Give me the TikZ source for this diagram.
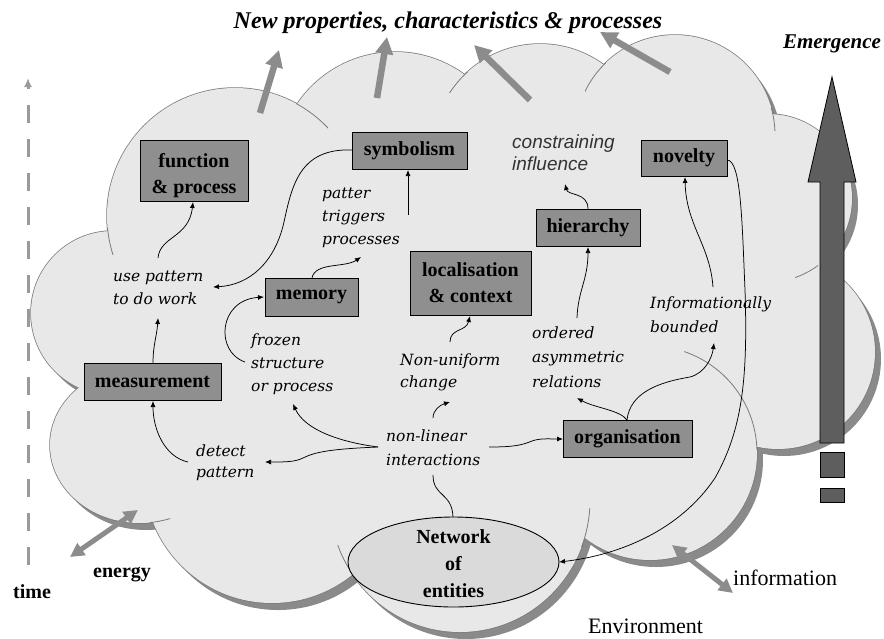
\documentclass[tikz,border=0pt]{standalone}
\usepackage{fontspec}
\setmainfont{Liberation Serif}
\newfontfamily\lblfont{DejaVu Serif}
\newfontfamily\sansfnt{Liberation Sans}
\usetikzlibrary{arrows.meta,shapes.geometric}
\definecolor{cloudfill}{HTML}{E8E8E8}
\definecolor{cloudline}{HTML}{7A7A7A}
\definecolor{shadowgray}{HTML}{8A8A8A}
\definecolor{boxgray}{HTML}{8F8F8F}
\definecolor{arrowgray}{HTML}{8C8C8C}
\definecolor{emergegray}{HTML}{5E5E5E}
\definecolor{netfill}{HTML}{DADADA}
\definecolor{timegray}{HTML}{9A9A9A}
\newcommand\cloudbumps{(235,216) circle[radius=128] (113,313) circle[radius=82] (140,445) ellipse[x radius=90, y radius=78] (272,475) circle[radius=128] (460,500) ellipse[x radius=130, y radius=132] (650,453) circle[radius=107] (778,352) circle[radius=97] (768,198) circle[radius=84] (675,135) circle[radius=100] (540,152) circle[radius=108] (395,170) circle[radius=118]}
\newcommand\cloudcore{(235,216) -- (395,170) -- (540,152) -- (675,135) -- (768,198) -- (778,352) -- (650,453) -- (460,500) -- (272,475) -- (140,445) -- (113,313) -- cycle}
\newcommand\lbltab[1]{\begin{tabular}[t]{@{}l@{}}#1\end{tabular}}
\newcommand\ctrtab[1]{\begin{tabular}[t]{@{}c@{}}#1\end{tabular}}
\begin{document}
\begin{tikzpicture}[x=1pt,y=-1pt,
  box/.style={draw=black, line width=0.9pt, fill=boxgray, inner sep=0pt, align=center,
     font=\fontsize{20}{26}\selectfont\bfseries},
  lbl/.style={inner sep=0pt, anchor=base west,
     font=\lblfont\itshape\fontsize{15.5}{23}\selectfont},
  conn/.style={draw=black, line width=0.75pt, -{Latex[length=6pt,width=5pt]}},
  plainconn/.style={draw=black, line width=0.75pt},
  bigarrow/.style={draw=arrowgray, line width=6.5pt, -{Triangle[length=17pt,width=17pt]}},
  dblarrow/.style={draw=arrowgray, line width=5pt, {Triangle[length=14pt,width=14pt]}-{Triangle[length=14pt,width=14pt]}},
  cloudedge/.style={draw=cloudline, line width=1.5pt},
  inneredge/.style={draw=cloudline, line width=0.8pt},
  plaintext/.style={inner sep=0pt, anchor=base west},
]
\useasboundingbox (0,0) rectangle (884,638);
\fill[white] (0,0) rectangle (884,638);

% ---- cloud: shadow, outline, fill
\begin{scope}[shift={(6,7)}]
  \fill[shadowgray] \cloudbumps;
  \fill[shadowgray] \cloudcore;
\end{scope}
\draw[cloudedge] \cloudbumps;
\fill[cloudfill] \cloudbumps;
\fill[cloudfill] \cloudcore;

% ---- inner arcs of the cloud
\begin{scope}\clip (296,100) rectangle (328,128); \draw[inneredge] (235,216) circle[radius=128];\end{scope}
\begin{scope}\clip (104,228) rectangle (115,254); \draw[inneredge] (235,216) circle[radius=128];\end{scope}
\begin{scope}\clip (150,512) rectangle (170,526); \draw[inneredge] (140,445) ellipse[x radius=90, y radius=78];\end{scope}
\begin{scope}\clip (333,545) rectangle (354,578); \draw[inneredge] (460,500) ellipse[x radius=130, y radius=132];\end{scope}
\begin{scope}\clip (578,508) rectangle (595,546); \draw[inneredge] (460,500) ellipse[x radius=130, y radius=132];\end{scope}
\begin{scope}\clip (684,346) rectangle (760,449); \draw[inneredge] (650,453) circle[radius=107];\end{scope}
\begin{scope}\clip (795,262) rectangle (818,280); \draw[inneredge] (768,198) circle[radius=84];\end{scope}
\begin{scope}\clip (768,108) rectangle (778,130); \draw[inneredge] (675,135) circle[radius=100];\end{scope}
\begin{scope}\clip (449,72) rectangle (468,92); \draw[inneredge] (540,152) circle[radius=108];\end{scope}
\begin{scope}\clip (585,60) rectangle (606,93); \draw[inneredge] (675,135) circle[radius=100];\end{scope}

% ---- time axis
\coordinate (t0) at (28,565);
\coordinate (t1) at (28,78);
\draw[timegray, line width=3pt, dash pattern=on 18pt off 16pt, -{Latex[length=9pt,width=8pt]}] (t0) -- (t1);

% ---- gray arrows out of the cloud
\coordinate (a1s) at (260,113); \coordinate (a1e) at (279,50);
\coordinate (a2s) at (377,98);  \coordinate (a2e) at (387,37);
\coordinate (a3s) at (530,100); \coordinate (a3e) at (474,45);
\coordinate (a4s) at (670,72);  \coordinate (a4e) at (600,32);
\draw[bigarrow] (a1s) -- (a1e);
\draw[bigarrow] (a2s) -- (a2e);
\draw[bigarrow] (a3s) -- (a3e);
\draw[bigarrow] (a4s) -- (a4e);
\coordinate (en1) at (70,557); \coordinate (en2) at (138,510);
\draw[dblarrow] (en1) -- (en2);
\coordinate (in1) at (672,545); \coordinate (in2) at (733,593);
\draw[dblarrow] (in1) -- (in2);

% ---- emergence arrow
\draw[fill=emergegray, line width=0.8pt] (820,443) -- (820,182) -- (808,182) -- (832,77) -- (856,182) -- (844,182) -- (844,443) -- cycle;
\draw[fill=emergegray, line width=0.8pt] (820,452) rectangle (844,477);
\draw[fill=emergegray, line width=0.8pt] (820,488) rectangle (844,502);

% ---- titles and outside texts
\node[inner sep=0pt, anchor=base, font=\fontsize{24}{28}\selectfont\bfseries\itshape] (title) at (448,28) {New properties, characteristics \& processes};
\node[inner sep=0pt, anchor=base, font=\fontsize{21}{24}\selectfont\bfseries\itshape] (emerg) at (832,48) {Emergence};
\node[plaintext, font=\fontsize{20}{24}\selectfont\bfseries] (energy) at (93,577) {energy};
\node[plaintext, font=\fontsize{20}{24}\selectfont\bfseries] (time) at (13,598) {time};
\node[plaintext, font=\fontsize{22}{24}\selectfont] (info2) at (733,585) {information};
\node[plaintext, font=\fontsize{22}{24}\selectfont] (env) at (588,633) {Environment};

% ---- boxes
\node[box, minimum width=108pt, minimum height=61pt] (fp) at (194,170.5) {\raisebox{-5pt}[\height][\depth]{\ctrtab{function\\\& process}}};
\node[box, minimum width=115pt, minimum height=37pt] (sym) at (409.5,150.5) {symbolism};
\node[box, minimum width=93pt, minimum height=38pt] (mem) at (311.5,297) {memory};
\node[box, minimum width=121pt, minimum height=64pt] (loc) at (470.5,283) {localisation\\\& context};
\node[box, minimum width=104pt, minimum height=37pt] (hier) at (588,227.5) {hierarchy};
\node[box, minimum width=86pt, minimum height=36pt] (nov) at (684,158) {novelty};
\node[box, minimum width=137pt, minimum height=37pt] (meas) at (152.5,381.5) {measurement};
\node[box, minimum width=129pt, minimum height=37pt] (org) at (627.5,438.5) {organisation};
\node[ellipse, draw=black, line width=0.9pt, fill=netfill, minimum width=211pt, minimum height=90pt, inner sep=0pt] (net) at (453.5,562) {};
\node[inner sep=0pt, anchor=base, font=\fontsize{20}{27}\selectfont\bfseries] (nettext) at (453.5,543) {\ctrtab{Network\\of\\entities}};

% ---- italic labels
\node[lbl] (usep) at (113,281) {\lbltab{use pattern\\to do work}};
\node[lbl] (frozen) at (251,345) {\lbltab{frozen\\structure\\or process}};
\node[lbl] (patter) at (322,198) {\lbltab{patter\\triggers\\processes}};
\node[lbl, font=\sansfnt\itshape\fontsize{19}{22}\selectfont, text=black!80] (cons) at (512,148) {\lbltab{constraining\\influence}};
\node[lbl, font=\lblfont\itshape\fontsize{15.5}{22}\selectfont] (nonuni) at (400,365) {\lbltab{Non-uniform\\change}};
\node[lbl, font=\lblfont\itshape\fontsize{15.5}{24.5}\selectfont] (ordered) at (532,338) {\lbltab{ordered\\asymmetric\\relations}};
\node[lbl, font=\lblfont\itshape\fontsize{15.5}{24}\selectfont] (infob) at (650,308) {\lbltab{Informationally\\bounded}};
\node[lbl, font=\lblfont\itshape\fontsize{15.5}{24}\selectfont] (nonlin) at (386,441) {\lbltab{non-linear\\interactions}};
\node[lbl, font=\lblfont\itshape\fontsize{15.5}{21}\selectfont] (detect) at (196,456) {\lbltab{detect\\pattern}};

% ---- connector end points
\coordinate (u1) at (158,258);  \coordinate (f1) at (193,202);
\coordinate (m1) at (153,363);  \coordinate (u2) at (158,318);
\coordinate (s1) at (352,150);  \coordinate (u3) at (213,287);
\coordinate (p1) at (408,215);  \coordinate (s2) at (408,170);
\coordinate (me1) at (312,278); \coordinate (p2) at (361,257);
\coordinate (fr1) at (245,362); \coordinate (me2) at (264,297);
\coordinate (nl1) at (378,447); \coordinate (fr2) at (293,404);
\coordinate (de1) at (265,462); \coordinate (de2) at (188,462);
\coordinate (m2) at (153,401);
\coordinate (nl2) at (433,418); \coordinate (nu1) at (450,402);
\coordinate (nu2) at (450,342); \coordinate (lo1) at (470,316);
\coordinate (nl3) at (489,447); \coordinate (o1) at (563,439);
\coordinate (nl4) at (433,475); \coordinate (ne1) at (453,517);
\coordinate (o2) at (627,420);  \coordinate (or1) at (577,398);
\coordinate (ib1) at (714,343);
\coordinate (or2) at (577,318); \coordinate (h1) at (588,247);
\coordinate (h2) at (588,209);  \coordinate (c1) at (565,184);
\coordinate (ib2) at (713,287); \coordinate (n1) at (685,177);
\coordinate (n2) at (727,160);  \coordinate (ne2) at (559,562);

% ---- connectors
\draw[conn] (u1) .. controls (160,236) and (189,238) .. (f1);
\draw[conn] (m1) .. controls (153,345) and (157,335) .. (u2);
\draw[conn] (s1) .. controls (300,148) and (292,185) .. (284,222) .. controls (275,262) and (250,285) .. (u3);
\draw[conn] (p1) -- (s2);
\draw[conn] (me1) .. controls (315,262) and (345,268) .. (p2);
\draw[conn] (fr1) .. controls (215,352) and (218,300) .. (me2);
\draw[conn] (nl1) .. controls (340,442) and (305,430) .. (fr2);
\draw[conn] (nl1) .. controls (330,449) and (315,452) .. (303,458) .. controls (295,462) and (285,462) .. (de1);
\draw[conn] (de2) .. controls (165,457) and (153,430) .. (m2);
\draw[conn] (nl2) .. controls (433,410) and (440,405) .. (nu1);
\draw[conn] (nu2) .. controls (450,328) and (466,332) .. (lo1);
\draw[conn] (nl3) .. controls (515,447) and (522,445) .. (532,441) .. controls (540,438) and (550,439) .. (o1);
\draw[plainconn] (nl4) .. controls (433,497) and (452,492) .. (ne1);
\draw[conn] (o2) .. controls (620,410) and (595,408) .. (or1);
\draw[conn] (o2) .. controls (630,392) and (660,382) .. (690,377) .. controls (705,373) and (712,358) .. (ib1);
\draw[conn] (or2) .. controls (578,290) and (588,280) .. (h1);
\draw[conn] (h2) .. controls (588,192) and (568,196) .. (c1);
\draw[conn] (ib2) .. controls (710,245) and (686,225) .. (n1);
\draw[conn] (n2) .. controls (741,160) and (742,220) .. (745,290) .. controls (748,380) and (742,430) .. (715,478) .. controls (680,530) and (620,555) .. (ne2);
\end{tikzpicture}
\end{document}
